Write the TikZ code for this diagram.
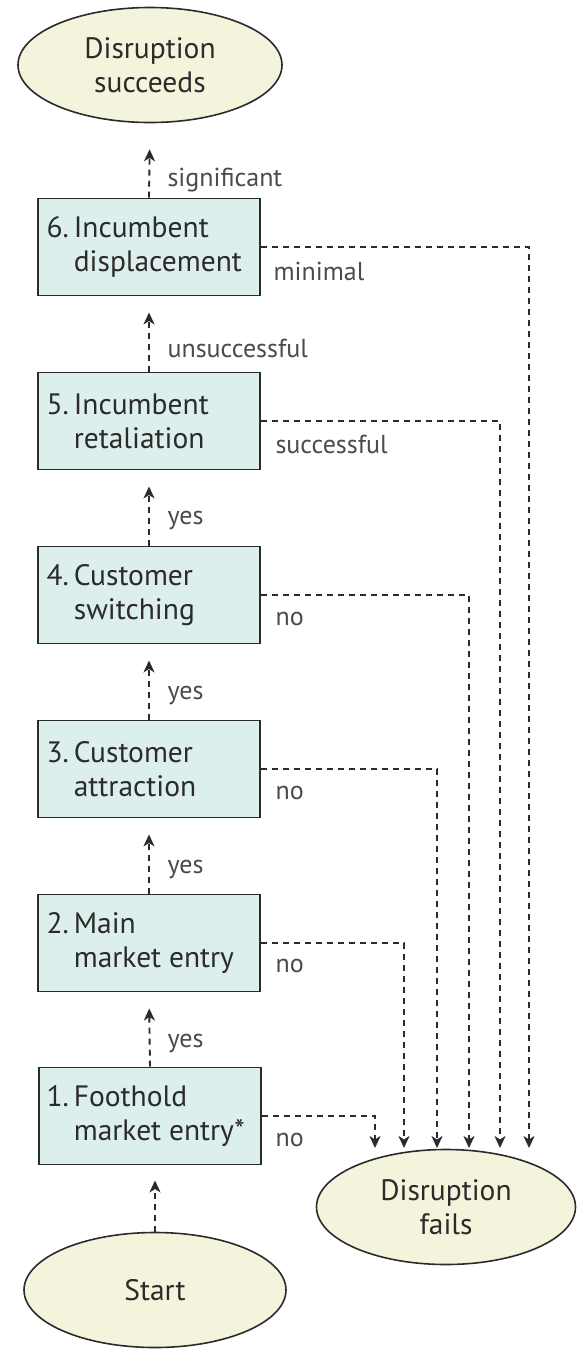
\documentclass[tikz,border=0pt]{standalone}
\usepackage{fontspec}
\setmainfont{PT Sans}
\usetikzlibrary{arrows.meta,shapes.geometric}
\definecolor{boxfill}{HTML}{DDEFEC}
\definecolor{ellfill}{HTML}{F4F4DC}
\definecolor{ink}{HTML}{2B2B2B}
\begin{document}
\begin{tikzpicture}[x=1pt,y=-1pt,
  stepbox/.style={draw=ink,line width=1.9pt,fill=boxfill,minimum width=222pt,minimum height=97pt,inner sep=0pt},
  boxtext/.style={anchor=west,align=left,font=\fontsize{29.5}{34}\selectfont,text=ink},
  endell/.style={ellipse,draw=ink,line width=1.6pt,fill=ellfill,minimum width=264pt,minimum height=115pt,inner sep=0pt,align=center,font=\fontsize{29.5}{34}\selectfont,text=ink},
  flow/.style={draw=ink,line width=1.9pt,dash pattern=on 6pt off 5pt,-{Stealth[length=12pt,width=11pt,inset=3.5pt]}},
  lbl/.style={anchor=west,font=\fontsize{26}{30}\selectfont,text=ink!85}]
\useasboundingbox (0,0) rectangle (577,1350);
\fill[white] (0,0) rectangle (577,1350);
% ellipses
\node[endell] (succ) at (150,65) {Disruption\\succeeds};
\node[endell,minimum width=262pt] (start) at (155,1290) {Start};
\node[endell,minimum width=259pt] (fail) at (446,1207) {Disruption\\fails};
% boxes
\node[stepbox] (b6) at (149,247) {};
\node[stepbox] (b5) at (149,421) {};
\node[stepbox] (b4) at (149,595) {};
\node[stepbox] (b3) at (149,769) {};
\node[stepbox] (b2) at (149,943) {};
\node[stepbox] (b1) at (150,1116) {};
\node[boxtext] (t6) at (43,247) {6.\,Incumbent\\\phantom{6.\,}displacement};
\node[boxtext] (t5) at (43,421) {5.\,Incumbent\\\phantom{5.\,}retaliation};
\node[boxtext] (t4) at (43,595) {4.\,Customer\\\phantom{4.\,}switching};
\node[boxtext] (t3) at (43,769) {3.\,Customer\\\phantom{3.\,}attraction};
\node[boxtext] (t2) at (43,943) {2.\,Main\\\phantom{2.\,}market entry};
\node[boxtext] (t1) at (43,1116) {1.\,Foothold\\\phantom{1.\,}market entry*};
% end points at Disruption fails
\coordinate (f1) at (375,1148);
\coordinate (f2) at (404,1148);
\coordinate (f3) at (437,1148);
\coordinate (f4) at (469,1148);
\coordinate (f5) at (500,1148);
\coordinate (f6) at (529,1148);
% upward arrows
\draw[flow,shorten >=26pt] (b6.north) -- (succ.south);
\draw[flow,shorten >=16pt] (b5.north) -- (b6.south);
\draw[flow,shorten >=16pt] (b4.north) -- (b5.south);
\draw[flow,shorten >=16pt] (b3.north) -- (b4.south);
\draw[flow,shorten >=16pt] (b2.north) -- (b3.south);
\draw[flow,shorten >=16pt] (b1.north) -- (b2.south);
\draw[flow,shorten >=15pt] (start.north) -- (start.north |- b1.south);
% failure connectors
\draw[flow] (b6.east) -| (f6);
\draw[flow] (b5.east) -| (f5);
\draw[flow] (b4.east) -| (f4);
\draw[flow] (b3.east) -| (f3);
\draw[flow] (b2.east) -| (f2);
\draw[flow] (b1.east) -| (f1);
% labels
\node[lbl] (l6) at (164,180) {significant};
\node[lbl] (l5) at (164,348) {unsuccessful};
\node[lbl] (l4) at (164,521) {yes};
\node[lbl] (l3) at (164,695) {yes};
\node[lbl] (l2) at (164,869) {yes};
\node[lbl] (l1) at (164,1043) {yes};
\node[lbl] (m6) at (270,271) {minimal};
\node[lbl] (m5) at (272,444) {successful};
\node[lbl] (m4) at (272,619) {no};
\node[lbl] (m3) at (272,793) {no};
\node[lbl] (m2) at (272,966) {no};
\node[lbl] (m1) at (272,1140) {no};
\end{tikzpicture}
\end{document}
